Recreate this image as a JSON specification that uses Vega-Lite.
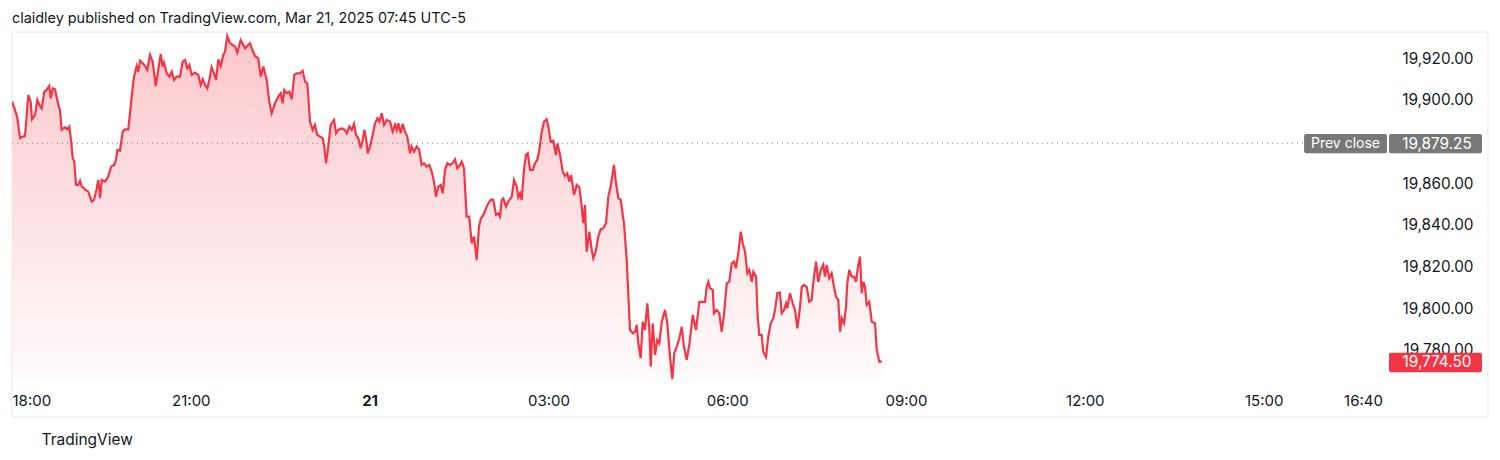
{
  "$schema": "https://vega.github.io/schema/vega-lite/v6.json",
  "width": 1378,
  "height": 348,
  "autosize": {"type": "none"},
  "padding": {"left": 12, "top": 32, "right": 110, "bottom": 80},
  "background": "white",
  "config": {
    "view": {"stroke": null},
    "font": "Inter",
    "axis": {"labelFont": "Inter", "labelColor": "#131722", "grid": false, "domain": false, "ticks": false, "tickSize": 0}
  },
  "title": {
    "text": "claidley published on TradingView.com, Mar 21, 2025 07:45 UTC-5",
    "anchor": "start",
    "frame": "group",
    "baseline": "bottom",
    "offset": 7,
    "dy": 16,
    "fontSize": 14.4,
    "fontWeight": "normal",
    "color": "#131722",
    "font": "Inter"
  },
  "datasets": {
    "price": [
      {"m": 0, "v": 19899.2}, {"m": 3.0, "v": 19895.2}, {"m": 5.3, "v": 19891.7}, {"m": 8.1, "v": 19881.6},
      {"m": 10.8, "v": 19882.4}, {"m": 13.1, "v": 19882.7}, {"m": 16.4, "v": 19902.4}, {"m": 18.8, "v": 19899.2},
      {"m": 20.1, "v": 19890.7}, {"m": 23.2, "v": 19892.8}, {"m": 25.5, "v": 19900.0}, {"m": 27.5, "v": 19897.6},
      {"m": 29.9, "v": 19896.0}, {"m": 32.5, "v": 19904.0}, {"m": 34.9, "v": 19904.8}, {"m": 37.5, "v": 19906.7},
      {"m": 39.0, "v": 19900.8}, {"m": 41.0, "v": 19905.6}, {"m": 43.3, "v": 19905.1}, {"m": 46.6, "v": 19897.6},
      {"m": 48.3, "v": 19895.2}, {"m": 50.0, "v": 19885.6}, {"m": 53.4, "v": 19886.9}, {"m": 55.7, "v": 19885.9},
      {"m": 57.7, "v": 19887.2}, {"m": 59.4, "v": 19880.8}, {"m": 61.1, "v": 19872.0}, {"m": 62.7, "v": 19870.4},
      {"m": 64.4, "v": 19859.2}, {"m": 66.7, "v": 19859.2}, {"m": 68.5, "v": 19861.2}, {"m": 70.2, "v": 19858.4},
      {"m": 73.5, "v": 19857.1}, {"m": 76.8, "v": 19856.0}, {"m": 80.2, "v": 19851.2}, {"m": 82.5, "v": 19852.0},
      {"m": 84.6, "v": 19856.0}, {"m": 86.9, "v": 19861.6}, {"m": 88.6, "v": 19852.8}, {"m": 90.3, "v": 19861.6},
      {"m": 93.6, "v": 19860.8}, {"m": 96.9, "v": 19863.2}, {"m": 99.7, "v": 19868.0}, {"m": 102.7, "v": 19868.8},
      {"m": 104.7, "v": 19871.2}, {"m": 106.0, "v": 19876.0}, {"m": 108.7, "v": 19875.6}, {"m": 111.4, "v": 19884.8},
      {"m": 113.8, "v": 19885.9}, {"m": 117.1, "v": 19885.9}, {"m": 120.5, "v": 19901.6}, {"m": 122.8, "v": 19911.2},
      {"m": 125.5, "v": 19916.3}, {"m": 127.1, "v": 19913.6}, {"m": 128.9, "v": 19918.8}, {"m": 131.6, "v": 19917.6},
      {"m": 133.9, "v": 19916.3}, {"m": 136.2, "v": 19914.4}, {"m": 138.9, "v": 19921.6}, {"m": 141.6, "v": 19918.4},
      {"m": 144.7, "v": 19906.7}, {"m": 146.7, "v": 19912.8}, {"m": 149.7, "v": 19922.1}, {"m": 151.7, "v": 19916.0},
      {"m": 153.0, "v": 19917.9}, {"m": 155.7, "v": 19912.8}, {"m": 158.4, "v": 19911.2}, {"m": 160.8, "v": 19913.6},
      {"m": 163.1, "v": 19909.6}, {"m": 165.8, "v": 19911.2}, {"m": 169.1, "v": 19911.2}, {"m": 171.8, "v": 19918.4},
      {"m": 174.2, "v": 19919.2}, {"m": 176.5, "v": 19915.2}, {"m": 178.5, "v": 19916.8}, {"m": 180.9, "v": 19912.0},
      {"m": 184.2, "v": 19913.1}, {"m": 187.5, "v": 19912.0}, {"m": 190.0, "v": 19907.2}, {"m": 192.0, "v": 19909.9},
      {"m": 194.3, "v": 19907.2}, {"m": 196.6, "v": 19905.6}, {"m": 198.6, "v": 19909.6}, {"m": 201.0, "v": 19915.7},
      {"m": 203.4, "v": 19912.8}, {"m": 205.4, "v": 19909.6}, {"m": 207.7, "v": 19919.5}, {"m": 210.1, "v": 19916.3},
      {"m": 212.7, "v": 19921.6}, {"m": 214.4, "v": 19923.2}, {"m": 216.7, "v": 19930.7}, {"m": 219.5, "v": 19927.2},
      {"m": 222.2, "v": 19926.4}, {"m": 224.5, "v": 19925.6}, {"m": 226.8, "v": 19922.7}, {"m": 230.2, "v": 19928.8},
      {"m": 234.6, "v": 19924.8}, {"m": 239.6, "v": 19927.2}, {"m": 241.3, "v": 19924.8}, {"m": 244.6, "v": 19921.1},
      {"m": 247.9, "v": 19920.0}, {"m": 250.4, "v": 19911.2}, {"m": 253.0, "v": 19916.0}, {"m": 256.4, "v": 19909.6},
      {"m": 259.0, "v": 19899.2}, {"m": 261.4, "v": 19893.6}, {"m": 264.8, "v": 19898.4}, {"m": 268.1, "v": 19901.6},
      {"m": 270.5, "v": 19903.2}, {"m": 272.5, "v": 19898.4}, {"m": 274.1, "v": 19904.8}, {"m": 276.5, "v": 19903.2},
      {"m": 279.2, "v": 19904.0}, {"m": 281.6, "v": 19900.3}, {"m": 284.2, "v": 19912.0}, {"m": 286.6, "v": 19912.8},
      {"m": 289.9, "v": 19912.8}, {"m": 292.6, "v": 19914.0}, {"m": 295.0, "v": 19908.8}, {"m": 297.3, "v": 19908.0},
      {"m": 300.0, "v": 19889.6}, {"m": 302.7, "v": 19885.6}, {"m": 305.0, "v": 19888.0}, {"m": 307.3, "v": 19883.2},
      {"m": 310.1, "v": 19882.4}, {"m": 312.8, "v": 19881.6}, {"m": 314.4, "v": 19877.6}, {"m": 316.1, "v": 19869.6},
      {"m": 318.4, "v": 19877.6}, {"m": 320.8, "v": 19888.0}, {"m": 324.2, "v": 19890.4}, {"m": 326.2, "v": 19884.0},
      {"m": 328.5, "v": 19885.6}, {"m": 331.9, "v": 19886.4}, {"m": 335.2, "v": 19885.6}, {"m": 337.0, "v": 19884.0},
      {"m": 339.6, "v": 19887.2}, {"m": 342.0, "v": 19885.6}, {"m": 344.3, "v": 19888.5}, {"m": 346.3, "v": 19883.2},
      {"m": 348.6, "v": 19881.6}, {"m": 351.0, "v": 19876.8}, {"m": 353.1, "v": 19880.8}, {"m": 354.7, "v": 19885.6},
      {"m": 356.4, "v": 19881.6}, {"m": 358.1, "v": 19874.4}, {"m": 360.4, "v": 19877.6}, {"m": 363.1, "v": 19883.2},
      {"m": 365.4, "v": 19888.8}, {"m": 367.8, "v": 19891.2}, {"m": 369.8, "v": 19889.6}, {"m": 372.2, "v": 19893.6},
      {"m": 374.5, "v": 19888.0}, {"m": 377.2, "v": 19890.4}, {"m": 380.5, "v": 19889.6}, {"m": 383.2, "v": 19884.8},
      {"m": 385.6, "v": 19888.0}, {"m": 387.3, "v": 19885.6}, {"m": 388.9, "v": 19888.8}, {"m": 391.3, "v": 19884.0},
      {"m": 393.3, "v": 19888.5}, {"m": 395.6, "v": 19884.8}, {"m": 397.9, "v": 19882.4}, {"m": 400.7, "v": 19874.4},
      {"m": 402.3, "v": 19877.6}, {"m": 404.7, "v": 19875.2}, {"m": 407.4, "v": 19877.6}, {"m": 410.0, "v": 19876.0},
      {"m": 412.4, "v": 19868.8}, {"m": 414.8, "v": 19869.6}, {"m": 417.5, "v": 19868.0}, {"m": 420.1, "v": 19868.8},
      {"m": 422.5, "v": 19865.6}, {"m": 424.8, "v": 19860.8}, {"m": 426.8, "v": 19853.6}, {"m": 429.2, "v": 19858.4},
      {"m": 431.6, "v": 19859.2}, {"m": 433.6, "v": 19855.2}, {"m": 435.9, "v": 19866.4}, {"m": 438.2, "v": 19869.6},
      {"m": 440.9, "v": 19868.8}, {"m": 443.6, "v": 19869.6}, {"m": 446.0, "v": 19871.5}, {"m": 448.3, "v": 19867.2},
      {"m": 451.0, "v": 19868.8}, {"m": 452.7, "v": 19870.4}, {"m": 455.0, "v": 19867.2}, {"m": 457.7, "v": 19844.0},
      {"m": 460.3, "v": 19844.0}, {"m": 462.7, "v": 19831.2}, {"m": 465.1, "v": 19834.4}, {"m": 467.8, "v": 19823.2},
      {"m": 470.1, "v": 19839.2}, {"m": 472.1, "v": 19843.2}, {"m": 474.5, "v": 19844.8}, {"m": 477.9, "v": 19848.8},
      {"m": 480.5, "v": 19851.2}, {"m": 482.9, "v": 19852.3}, {"m": 484.5, "v": 19852.0}, {"m": 487.2, "v": 19844.8},
      {"m": 489.6, "v": 19845.6}, {"m": 491.3, "v": 19844.0}, {"m": 493.0, "v": 19852.0}, {"m": 494.6, "v": 19852.8},
      {"m": 497.3, "v": 19848.8}, {"m": 499.6, "v": 19851.2}, {"m": 503.1, "v": 19853.6}, {"m": 505.4, "v": 19861.6},
      {"m": 508.1, "v": 19858.4}, {"m": 509.7, "v": 19853.3}, {"m": 511.4, "v": 19855.2}, {"m": 513.1, "v": 19852.0},
      {"m": 515.4, "v": 19866.4}, {"m": 517.4, "v": 19873.6}, {"m": 519.2, "v": 19874.4}, {"m": 521.5, "v": 19866.4},
      {"m": 524.2, "v": 19866.4}, {"m": 526.5, "v": 19869.6}, {"m": 528.8, "v": 19871.2}, {"m": 530.8, "v": 19876.0},
      {"m": 533.3, "v": 19884.8}, {"m": 535.6, "v": 19889.6}, {"m": 538.3, "v": 19890.7}, {"m": 539.9, "v": 19887.2},
      {"m": 542.3, "v": 19880.0}, {"m": 544.9, "v": 19880.4}, {"m": 547.6, "v": 19873.6}, {"m": 549.0, "v": 19879.2},
      {"m": 551.7, "v": 19873.6}, {"m": 554.4, "v": 19865.6}, {"m": 556.7, "v": 19863.5}, {"m": 559.0, "v": 19864.8},
      {"m": 561.0, "v": 19860.8}, {"m": 562.8, "v": 19864.0}, {"m": 565.8, "v": 19854.4}, {"m": 568.5, "v": 19859.2},
      {"m": 571.1, "v": 19858.1}, {"m": 573.5, "v": 19848.8}, {"m": 575.1, "v": 19840.8}, {"m": 576.8, "v": 19849.6},
      {"m": 578.5, "v": 19827.2}, {"m": 581.2, "v": 19836.8}, {"m": 583.6, "v": 19828.0}, {"m": 585.2, "v": 19824.0},
      {"m": 587.6, "v": 19827.2}, {"m": 590.2, "v": 19834.4}, {"m": 592.6, "v": 19837.9}, {"m": 595.3, "v": 19838.4},
      {"m": 598.0, "v": 19840.8}, {"m": 600.3, "v": 19853.6}, {"m": 602.7, "v": 19858.4}, {"m": 604.7, "v": 19864.8},
      {"m": 606.0, "v": 19868.8}, {"m": 608.0, "v": 19860.0}, {"m": 610.4, "v": 19852.8}, {"m": 612.8, "v": 19852.0},
      {"m": 614.8, "v": 19844.8}, {"m": 616.1, "v": 19840.8}, {"m": 618.8, "v": 19823.2}, {"m": 620.4, "v": 19807.2},
      {"m": 622.1, "v": 19789.6}, {"m": 624.9, "v": 19788.0}, {"m": 627.2, "v": 19788.7}, {"m": 628.9, "v": 19792.0},
      {"m": 630.5, "v": 19783.2}, {"m": 632.9, "v": 19776.0}, {"m": 634.9, "v": 19793.5}, {"m": 637.2, "v": 19789.6},
      {"m": 639.6, "v": 19802.4}, {"m": 641.6, "v": 19789.6}, {"m": 643.0, "v": 19771.9}, {"m": 645.0, "v": 19792.8},
      {"m": 647.4, "v": 19777.6}, {"m": 649.6, "v": 19784.8}, {"m": 651.6, "v": 19783.2}, {"m": 654.1, "v": 19793.5},
      {"m": 657.4, "v": 19799.2}, {"m": 659.7, "v": 19792.8}, {"m": 662.4, "v": 19776.7}, {"m": 664.7, "v": 19766.0},
      {"m": 666.7, "v": 19778.4}, {"m": 669.1, "v": 19781.5}, {"m": 671.8, "v": 19785.6}, {"m": 674.2, "v": 19791.1},
      {"m": 676.5, "v": 19781.5}, {"m": 679.2, "v": 19775.2}, {"m": 681.8, "v": 19782.4}, {"m": 685.3, "v": 19796.8},
      {"m": 688.6, "v": 19789.6}, {"m": 691.9, "v": 19803.1}, {"m": 695.3, "v": 19803.1}, {"m": 697.6, "v": 19803.1},
      {"m": 699.4, "v": 19810.3}, {"m": 701.0, "v": 19812.7}, {"m": 702.7, "v": 19809.6}, {"m": 705.4, "v": 19808.8},
      {"m": 706.7, "v": 19797.6}, {"m": 709.4, "v": 19799.2}, {"m": 712.0, "v": 19797.6}, {"m": 714.4, "v": 19788.7},
      {"m": 716.7, "v": 19796.8}, {"m": 719.5, "v": 19812.0}, {"m": 722.1, "v": 19812.7}, {"m": 724.5, "v": 19821.6},
      {"m": 726.8, "v": 19822.4}, {"m": 728.8, "v": 19819.2}, {"m": 731.1, "v": 19826.4}, {"m": 733.6, "v": 19836.8},
      {"m": 735.6, "v": 19831.2}, {"m": 737.9, "v": 19827.2}, {"m": 740.3, "v": 19816.8}, {"m": 742.3, "v": 19818.4},
      {"m": 744.7, "v": 19812.7}, {"m": 746.3, "v": 19817.5}, {"m": 749.0, "v": 19815.2}, {"m": 750.7, "v": 19795.9},
      {"m": 752.3, "v": 19787.2}, {"m": 754.7, "v": 19787.2}, {"m": 756.3, "v": 19779.1}, {"m": 759.0, "v": 19776.7},
      {"m": 761.3, "v": 19786.3}, {"m": 763.8, "v": 19792.8}, {"m": 766.4, "v": 19795.2}, {"m": 768.1, "v": 19799.2},
      {"m": 770.4, "v": 19807.2}, {"m": 773.1, "v": 19807.5}, {"m": 774.8, "v": 19797.6}, {"m": 777.2, "v": 19799.2},
      {"m": 779.2, "v": 19802.4}, {"m": 780.5, "v": 19800.0}, {"m": 783.2, "v": 19807.2}, {"m": 785.9, "v": 19802.4},
      {"m": 788.2, "v": 19799.2}, {"m": 790.6, "v": 19790.4}, {"m": 793.3, "v": 19800.7}, {"m": 795.0, "v": 19810.3},
      {"m": 797.3, "v": 19811.2}, {"m": 800.0, "v": 19810.3}, {"m": 802.6, "v": 19803.1}, {"m": 805.0, "v": 19804.0},
      {"m": 806.7, "v": 19812.7}, {"m": 809.4, "v": 19822.4}, {"m": 811.7, "v": 19812.7}, {"m": 814.1, "v": 19818.4},
      {"m": 816.7, "v": 19820.8}, {"m": 818.4, "v": 19815.2}, {"m": 820.1, "v": 19820.8}, {"m": 822.7, "v": 19814.4},
      {"m": 825.1, "v": 19816.8}, {"m": 826.8, "v": 19812.0}, {"m": 829.5, "v": 19805.5}, {"m": 831.8, "v": 19804.0},
      {"m": 833.6, "v": 19788.7}, {"m": 835.3, "v": 19795.2}, {"m": 837.6, "v": 19792.8}, {"m": 839.6, "v": 19800.7},
      {"m": 840.9, "v": 19812.0}, {"m": 842.9, "v": 19818.4}, {"m": 845.3, "v": 19815.2}, {"m": 847.6, "v": 19815.2},
      {"m": 849.6, "v": 19812.7}, {"m": 851.9, "v": 19820.8}, {"m": 853.7, "v": 19824.8}, {"m": 855.4, "v": 19807.2},
      {"m": 857.0, "v": 19812.7}, {"m": 858.7, "v": 19810.3}, {"m": 860.4, "v": 19801.6}, {"m": 863.0, "v": 19803.1},
      {"m": 865.5, "v": 19793.5}, {"m": 868.8, "v": 19792.8}, {"m": 870.5, "v": 19780.0}, {"m": 873.1, "v": 19774.3},
      {"m": 875.6, "v": 19774.5}
    ]
  },
  "layer": [
    {
      "data": {"name": "price"},
      "mark": {
        "type": "area",
        "clip": true,
        "color": {
          "gradient": "linear",
          "x1": 0, "y1": 0, "x2": 0, "y2": 1,
          "stops": [
            {"offset": 0, "color": "rgba(242,54,69,0.28)"},
            {"offset": 1, "color": "rgba(242,54,69,0.02)"}
          ]
        }
      },
      "encoding": {
        "x": {
          "field": "m", "type": "quantitative",
          "scale": {"domain": [0, 1387.2], "nice": false, "zero": false},
          "axis": {
            "values": [0, 180, 360, 540, 720, 900, 1080, 1260, 1360],
            "labelExpr": "datum.value == 0 ? '18:00' : datum.value == 180 ? '21:00' : datum.value == 360 ? '21' : datum.value == 540 ? '03:00' : datum.value == 720 ? '06:00' : datum.value == 900 ? '09:00' : datum.value == 1080 ? '12:00' : datum.value == 1260 ? '15:00' : '16:40'",
            "labelFlush": true,
            "labelFontSize": 15,
            "labelPadding": 13,
            "labelFontWeight": {"condition": {"test": "datum.value == 360", "value": "bold"}, "value": "normal"},
            "title": "TradingView",
            "titleFont": "Inter",
            "titleFontSize": 15.5,
            "titleFontWeight": "normal",
            "titleColor": "#131722",
            "titleAnchor": "start",
            "titleAlign": "left",
            "titleBaseline": "middle",
            "titleX": 29,
            "titleY": 59
          }
        },
        "y": {
          "field": "v", "type": "quantitative",
          "scale": {"domain": [19765.55, 19932.63], "nice": false, "zero": false},
          "axis": {
            "orient": "right",
            "values": [19780, 19800, 19820, 19840, 19860, 19900, 19920],
            "format": ",.2f",
            "labelFontSize": 15.3,
            "labelAlign": "right",
            "labelPadding": 83,
            "title": null
          }
        },
        "y2": {"datum": 19765.55}
      }
    },
    {
      "data": {"values": [{}]},
      "mark": {"type": "rect", "fill": null, "stroke": "#f3e6e8", "strokeWidth": 1},
      "encoding": {
        "x": {"datum": 0, "type": "quantitative"},
        "x2": {"datum": 1485.9},
        "y": {"datum": 19932.6, "type": "quantitative"},
        "y2": {"datum": 19747.8}
      }
    },
    {
      "data": {"name": "price"},
      "mark": {"type": "line", "color": "#F23645", "strokeWidth": 2.2, "clip": true},
      "encoding": {
        "x": {"field": "m", "type": "quantitative"},
        "y": {"field": "v", "type": "quantitative"}
      }
    },
    {
      "data": {"values": [{}]},
      "mark": {"type": "rule", "color": "#787b86", "strokeWidth": 1, "strokeDash": [1, 4]},
      "encoding": {
        "x": {"datum": 0, "type": "quantitative"},
        "x2": {"datum": 1300.7},
        "y": {"datum": 19879.25, "type": "quantitative"}
      }
    },
    {
      "data": {"values": [{}]},
      "mark": {"type": "rect", "fill": "#787878", "cornerRadius": 2},
      "encoding": {
        "x": {"datum": 1300.7, "type": "quantitative"},
        "x2": {"datum": 1384.2},
        "y": {"datum": 19883.6, "type": "quantitative"},
        "y2": {"datum": 19874.4}
      }
    },
    {
      "data": {"values": [{}]},
      "mark": {"type": "rect", "fill": "#787878", "cornerRadius": 2},
      "encoding": {
        "x": {"datum": 1386.2, "type": "quantitative"},
        "x2": {"datum": 1479.8},
        "y": {"datum": 19883.6, "type": "quantitative"},
        "y2": {"datum": 19874.4}
      }
    },
    {
      "data": {"values": [{}]},
      "mark": {"type": "rect", "fill": "#F23645", "cornerRadius": 2},
      "encoding": {
        "x": {"datum": 1386.2, "type": "quantitative"},
        "x2": {"datum": 1479.8},
        "y": {"datum": 19778.6, "type": "quantitative"},
        "y2": {"datum": 19769.3}
      }
    },
    {
      "data": {"values": [{"label": "Prev close", "m": 1342.4, "v": 19879.0, "s": "a"}, {"label": "19,879.25", "m": 1434.5, "v": 19879.0, "s": "b"}, {"label": "19,774.50", "m": 1434.5, "v": 19774.0, "s": "b"}]},
      "mark": {"type": "text", "color": "white", "font": "Inter", "align": "center", "baseline": "middle"},
      "encoding": {
        "x": {"field": "m", "type": "quantitative"},
        "y": {"field": "v", "type": "quantitative"},
        "text": {"field": "label"},
        "size": {"field": "s", "type": "nominal", "scale": {"domain": ["a", "b"], "range": [14, 15.3]}, "legend": null}
      }
    }
  ]
}
